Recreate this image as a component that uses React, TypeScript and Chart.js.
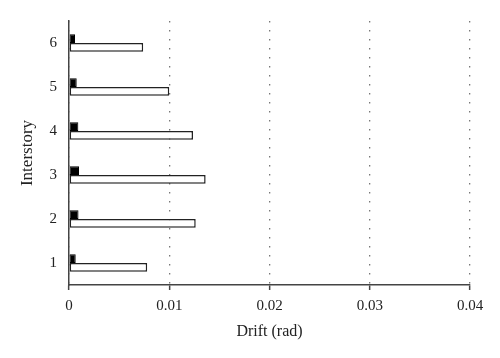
import React, { useEffect, useRef } from "react";
import { Chart, registerables } from "chart.js";

Chart.register(...registerables);

// Interstory 1..6 (bottom to top)
const stories = ["1", "2", "3", "4", "5", "6"];
const driftSmall = [0.00067, 0.00095, 0.001, 0.00093, 0.00077, 0.0006];
const driftLarge = [0.0078, 0.01264, 0.01363, 0.01237, 0.01, 0.0074];
const xTicks = [0, 0.01, 0.02, 0.03, 0.04];

const FONT = "'Liberation Serif', 'DejaVu Serif', serif";

export default function App() {
  const ref = useRef<HTMLCanvasElement>(null);
  useEffect(() => {
    if (!ref.current) return;
    const labels = [...stories].reverse();
    const small = [...driftSmall].reverse();
    const large = [...driftLarge].reverse();
    const chart = new Chart(ref.current, {
      type: "bar",
      data: {
        labels,
        datasets: [
          {
            data: small,
            backgroundColor: "#000000",
            borderColor: "#000000",
            borderWidth: 1,
            borderSkipped: false,
            categoryPercentage: 0.4,
            barPercentage: 1,
          },
          {
            data: large,
            backgroundColor: "#ffffff",
            borderColor: "#222222",
            borderWidth: 1.5,
            borderSkipped: false,
            categoryPercentage: 0.4,
            barPercentage: 1,
          },
        ],
      },
      options: {
        indexAxis: "y",
        animation: false,
        responsive: true,
        maintainAspectRatio: false,
        layout: { padding: { top: 17, right: 30, left: 0, bottom: 0 } },
        plugins: { legend: { display: false }, tooltip: { enabled: false } },
        scales: {
          x: {
            type: "linear",
            min: 0,
            max: 0.04,
            afterBuildTicks: (s: any) => {
              s.ticks = xTicks.map((v) => ({ value: v }));
            },
            afterFit: (s: any) => {
              s.height = 73;
            },
            ticks: {
              color: "#222",
              font: { family: FONT, size: 15 },
              padding: 7,
              callback: (v: any) => String(v),
            },
            grid: {
              color: "#777",
              lineWidth: 1.3,
              drawTicks: true,
              tickLength: 5,
              tickColor: "#444",
              tickWidth: 1.5,
              tickBorderDash: [],
            },
            border: { display: true, color: "#444", width: 1.5, dash: [1.5, 7.5] },
            title: {
              display: true,
              text: "Drift (rad)",
              color: "#222",
              font: { family: FONT, size: 16 },
              padding: { top: 0, bottom: 17 },
            },
          },
          y: {
            type: "category",
            afterFit: (s: any) => {
              s.width = 69;
            },
            ticks: {
              color: "#222",
              font: { family: FONT, size: 15 },
              padding: 12,
            },
            grid: { display: false, drawTicks: false },
            border: { display: true, color: "#444", width: 1.5 },
            title: {
              display: true,
              text: "Interstory",
              color: "#222",
              font: { family: FONT, size: 17 },
              padding: { top: 17, bottom: 0 },
            },
          },
        },
      },
    });
    return () => chart.destroy();
  }, []);
  return (
    <div style={{ position: "fixed", left: 0, top: 0, width: 500, height: 358, background: "#fff" }}>
      <canvas ref={ref} />
    </div>
  );
}
